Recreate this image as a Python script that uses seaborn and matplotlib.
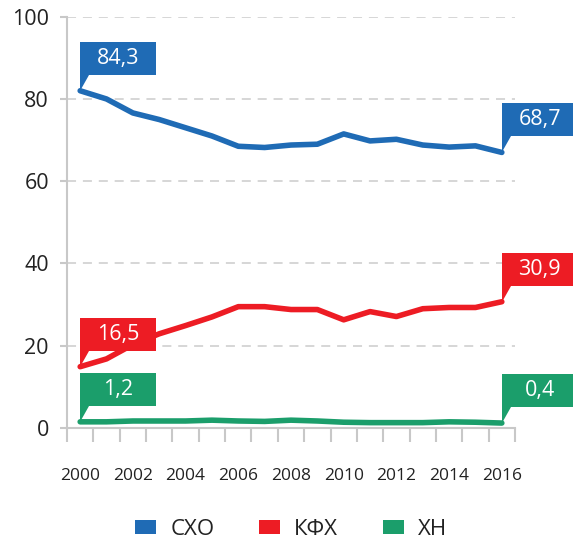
import matplotlib
matplotlib.use("Agg")
import matplotlib.pyplot as plt
import matplotlib.transforms as mtransforms
from matplotlib.patches import Polygon, Patch
import pandas as pd
import seaborn as sns

# data
years = list(range(2000, 2017))
sho = [82.0, 80.0, 76.6, 75.0, 73.0, 71.0, 68.5, 68.2, 68.8, 69.0, 71.5, 69.8, 70.2, 68.8, 68.3, 68.6, 67.0]
kfh = [14.9, 16.8, 20.3, 22.9, 24.9, 27.0, 29.5, 29.5, 28.8, 28.8, 26.3, 28.3, 27.1, 29.0, 29.3, 29.3, 30.7]
xn = [1.5, 1.5, 1.7, 1.7, 1.7, 1.9, 1.7, 1.6, 1.9, 1.7, 1.4, 1.3, 1.3, 1.3, 1.5, 1.4, 1.2]
series_names = ["СХО", "КФХ", "ХН"]
colors = ["#1f6bb5", "#ed1c24", "#1b9e6b"]
start_labels = ["84,3", "16,5", "1,2"]
end_labels = ["68,7", "30,9", "0,4"]
xtick_years = list(range(2000, 2017, 2))

sns.set_style("white")
plt.rcParams["font.family"] = ["Open Sans", "DejaVu Sans"]
text_color = "#222222"
axis_color = "#c8c8c8"

df = pd.DataFrame({
    "year": years * 3,
    "value": sho + kfh + xn,
    "series": [n for n in series_names for _ in years],
})

fig = plt.figure(figsize=(5.73, 5.41), dpi=100)
ax = fig.add_axes([0.1169, 0.2089, 0.8988 - 0.1169, 0.9691 - 0.2089])

sns.lineplot(data=df, x="year", y="value", hue="series", hue_order=series_names,
             palette=colors, linewidth=4.0, legend=False, ax=ax, zorder=3)

ax.set_xlim(1999.5, 2016.5)
ax.set_ylim(0, 100)
ax.set_xlabel("")
ax.set_ylabel("")

for s in ["top", "right"]:
    ax.spines[s].set_visible(False)
for s in ["left", "bottom"]:
    ax.spines[s].set_color(axis_color)
    ax.spines[s].set_linewidth(1.5)

ax.yaxis.grid(True, linestyle=(0, (5, 3.8)), color="#d3d3d3", linewidth=1.3)
ax.set_axisbelow(True)
ax.set_yticks([0, 20, 40, 60, 80, 100])
ax.tick_params(axis="y", length=5, width=1.5, color=axis_color, labelsize=15.5,
               labelcolor=text_color, pad=8, left=True)

ax.set_xticks(xtick_years)
ax.set_xticklabels([str(y) for y in xtick_years])
ax.set_xticks([y - 0.5 for y in years] + [years[-1] + 0.5], minor=True)
ax.tick_params(axis="x", which="major", length=0, labelsize=12.5, labelcolor=text_color, pad=29)
ax.tick_params(axis="x", which="minor", length=10, width=1.5, color=axis_color, bottom=True)

# callout labels at the first and last points
box = [(0, 0), (0, 0.49), (0.76, 0.49), (0.76, 0.16), (0.09, 0.16)]
for vals, col, s_lab, e_lab in zip([sho, kfh, xn], colors, start_labels, end_labels):
    for x, y, lab in [(years[0], vals[0], s_lab), (years[-1], vals[-1], e_lab)]:
        trans = fig.dpi_scale_trans + mtransforms.ScaledTranslation(x, y, ax.transData)
        ax.add_patch(Polygon(box, closed=True, facecolor=col, edgecolor="none",
                             transform=trans, clip_on=False, zorder=5))
        ax.text(0.38, 0.325, lab, transform=trans, ha="center", va="center",
                color="white", fontsize=15.5, zorder=6, clip_on=False)

handles = [Patch(facecolor=c, edgecolor="none") for c in colors]
fig.legend(handles, series_names, loc="center", bbox_to_anchor=(0.508, 0.022),
           ncol=3, frameon=False, fontsize=16, handlelength=0.95, handleheight=0.6,
           handletextpad=0.63, columnspacing=2.0, labelcolor=text_color)

fig.savefig("out.png", dpi=100)
